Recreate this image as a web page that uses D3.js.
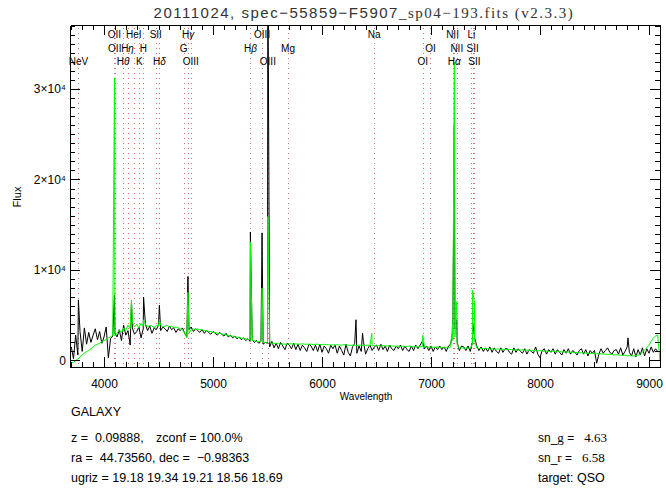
<!DOCTYPE html>
<html>
<head>
<meta charset="utf-8">
<script src="https://cdn.jsdelivr.net/npm/d3@7"></script>
<style>
body { margin: 0; background: #fff; }
svg text { font-family: "Liberation Sans", Arial, sans-serif; fill: #000; white-space: pre; }
.serif { font-family: "Liberation Serif", "Times New Roman", serif; }
.axis path, .axis line { stroke: #000; shape-rendering: crispEdges; }
</style>
</head>
<body>
<div id="chart"></div>
<script>
// spectrum sampled every 20 A starting at 3700 A
var waveStart = 3700, waveStep = 20;

// observed flux (black), rows of 200 A
var fluxData = [
  1500, 200, 2800, 600, 3200, 1000, 3600, 1800, 3100, 2000,
  2800, 3500, 2300, 3200, 1900, 2600, 3700, 300, 2400, 2700,
  3000, 2600, 3400, 2200, 3900, 2800, 3300, 1700, 3600, 2900,
  3200, 3700, 2500, 3500, 4000, 3300, 3800, 3000, 3600, 3400,
  3900, 3300, 3700, 3500, 3200, 3800, 3400, 3600, 3100, 3500,
  3300, 3600, 3000, 2600, 3400, 3700, 3200, 3500, 3300, 3100,
  3400, 3000, 3300, 3100, 2900, 3200, 3000, 2800, 3100, 2900,
  2700, 3000, 2600, 2800, 2500, 2700, 2400, 2600, 2300, 2500,
  2200, 2400, 2100, 2300, 2000, 2200, 1900, 2100, 1800, 2000,
  1900, 1500, 2100, 1400, 1900, 1300, 2000, 1600, 1200, 1900,
  1700, 1300, 1900, 1200, 1800, 1100, 1700, 1400, 1000, 1800,
  1600, 1100, 1700, 1000, 1800, 900, 1600, 1300, 800, 1700,
  1300, 1700, 800, 1600, 1100, 600, 1800, 900, 500, 1500,
  1900, 800, 1600, 1000, 2100, 700, 1300, 1700, 1100, 1500,
  1700, 1100, 1800, 1200, 1600, 1000, 1700, 1300, 1100, 1600,
  1300, 1700, 1100, 1600, 1200, 1000, 1600, 1100, 1700, 1300,
  1700, 2100, 1300, 1600, 1100, 1600, 1000, 1500, 1200, 1600,
  1200, 1500, 1000, 1600, 1800, 3200, 3500, 2000, 1100, 1600,
  1500, 1100, 1600, 1000, 2000, 2500, 1600, 1100, 1500, 1000,
  1400, 1000, 1500, 900, 1400, 1000, 800, 1400, 900, 1300,
  1300, 900, 700, 1400, 900, 1300, 1000, 800, 1300, 700,
  1200, 1000, 800, 1500, 700, 300, 1100, 1300, 700, 1200,
  900, 1300, 700, 1200, 900, 600, 1200, 800, 1300, 700,
  1100, 900, 600, 1100, 1300, 700, 1200, 500, 1100, 800,
  1100, -300, 700, 1300, 800, 1100, 1400, 900, 700, 1100,
  1200, 700, 1400, 600, 1000, 1500, 900, 500, 1300, 400,
  1200, 600, 1400, 500, 1300, 800, 1500, 900, 1300, 1000
];

// best-fit model (green), same grid
var fluxModel = [
  -300, -200, 0, 150, 400, 600, 800, 1000, 1100, 1300,
  1500, 1700, 1800, 1900, 2100, 2200, 2300, 2500, 2600, 2800,
  2700, 3000, 3400, 3100, 3600, 3300, 3900, 3500, 4200, 3700,
  4000, 3600, 4100, 3800, 4000, 3700, 3900, 3800, 3600, 3900,
  3800, 3900, 3700, 3800, 3900, 3700, 3800, 3600, 3700, 3600,
  3500, 3400, 3000, 2500, 3000, 3400, 3500, 3400, 3500, 3400,
  3400, 3300, 3300, 3200, 3200, 3100, 3100, 3000, 3000, 2900,
  2900, 2800, 2800, 2700, 2700, 2600, 2600, 2500, 2500, 2400,
  2400, 2300, 2300, 2200, 2200, 2100, 2100, 2100, 2000, 2000,
  2000, 2000, 1900, 1900, 1900, 1900, 1800, 1800, 1800, 1800,
  1850, 1850, 1800, 1850, 1800, 1800, 1850, 1800, 1800, 1800,
  1800, 1750, 1800, 1800, 1750, 1750, 1800, 1750, 1750, 1700,
  1750, 1700, 1750, 1700, 1700, 1750, 1700, 1700, 1650, 1700,
  1700, 1650, 1700, 1700, 1650, 1650, 1700, 1650, 1600, 1650,
  1650, 1650, 1600, 1650, 1600, 1600, 1650, 1600, 1600, 1550,
  1600, 1550, 1600, 1550, 1550, 1600, 1550, 1500, 1550, 1500,
  1500, 1550, 1500, 1500, 1450, 1500, 1450, 1450, 1500, 1450,
  1450, 1400, 1450, 1400, 1500, 2200, 2600, 1700, 1350, 1400,
  1350, 1400, 1350, 1350, 1800, 2200, 1400, 1300, 1350, 1300,
  1300, 1300, 1250, 1300, 1250, 1250, 1300, 1200, 1250, 1200,
  1200, 1250, 1200, 1150, 1200, 1150, 1150, 1200, 1100, 1150,
  1100, 1150, 1100, 1100, 1050, 1100, 1050, 1000, 1050, 1000,
  1000, 1050, 1000, 950, 1000, 950, 950, 900, 950, 900,
  900, 850, 900, 850, 850, 800, 850, 800, 750, 800,
  750, 800, 700, 750, 700, 700, 650, 700, 650, 600,
  650, 600, 600, 550, 600, 500, 550, 500, 500, 550,
  600, 700, 900, 1200, 1400, 1700, 2100, 2500, 2700, 2800,
  0
];

// narrow emission / sky spikes that fall between grid points
var peakWave  = [3765, 4096, 4252, 4363, 4508, 4770, 5343, 5450, 5503, 6312, 6372, 6457, 6925, 7198, 7214, 7236, 7382, 7399, 8807];
var peakData  = [6700, 7200, 6500, 7000, 6100, 9300, 14200, 14100, 45000, 4500, 3000, null, 2000, 3000, 26000, 4500, 4100, 2800, 2500];
var peakModel = [null, 31200, 6700, 4500, 4500, 7500, 13100, 8000, 15900, null, null, 3000, 2800, 4000, 33000, 6500, 7800, 6300, null];

// line markers: rest wavelength, label, label row
var redshift = 0.09888;
var lineRest = [3426.8, 3727.1, 3729.9, 3799.0, 3836.5, 3889.0, 3934.8, 3969.6, 4072.3, 4102.9,
                4305.6, 4341.7, 4364.4, 4862.7, 4960.3, 5008.2, 5176.7, 5895.6, 6302.0, 6365.5,
                6549.9, 6564.6, 6585.3, 6707.9, 6718.3, 6732.7];
var lineName = ["NeV", "OII", "OII", "H|θ", "H|η", "HeI", "K", "H", "SII", "H|δ",
                "G", "H|γ", "OIII", "H|β", "OIII", "OIII", "Mg", "Na", "OI", "OI",
                "NII", "H|α", "NII", "Li", "SII", "SII"];
var lineRow  = [2, 0, 1, 2, 1, 0, 2, 1, 0, 2,
                1, 0, 2, 1, 0, 2, 1, 0, 2, 1,
                0, 2, 1, 0, 1, 2];

var xTicks = [4000, 5000, 6000, 7000, 8000, 9000];
var yTicks = [0, 10000, 20000, 30000];
var yTickLabels = ["0", "1×10⁴", "2×10⁴", "3×10⁴"];

var title = "20111024, spec−55859−F5907";
var titleSerif = "_sp04−193.fits (v2.3.3)";

var W = 666, H = 494;
var mLeft = 70, mRight = 660, mTop = 25, mBottom = 367;

var svg = d3.select("#chart").append("svg")
    .attr("width", W).attr("height", H);
svg.append("rect").attr("width", W).attr("height", H).attr("fill", "#fff");

var x = d3.scaleLinear().domain([3688, 9101]).range([mLeft, mRight]);
var y = d3.scaleLinear().domain([-720, 37070]).range([mBottom, mTop]);

function buildSeries(vals, peaks) {
    var pts = vals.map(function(v, i) { return [waveStart + waveStep * i, v]; });
    peakWave.forEach(function(w, i) {
        if (peaks[i] != null) pts.push([w, peaks[i]]);
    });
    pts.sort(function(a, b) { return a[0] - b[0]; });
    return pts;
}

svg.append("clipPath").attr("id", "clip")
    .append("rect").attr("x", mLeft).attr("y", mTop)
    .attr("width", mRight - mLeft).attr("height", mBottom - mTop);

// dotted line markers
var obs = lineRest.map(function(r) { return r * (1 + redshift); });
svg.append("g").selectAll("line")
    .data(obs).enter().append("line")
    .attr("x1", function(d) { return Math.round(x(d)) + 0.5; })
    .attr("x2", function(d) { return Math.round(x(d)) + 0.5; })
    .attr("y1", mTop + 3).attr("y2", mBottom)
    .attr("stroke", "#d05050")
    .attr("stroke-opacity", 0.8)
    .attr("stroke-width", 1)
    .attr("stroke-dasharray", "1,4");

var line = d3.line()
    .x(function(d) { return x(d[0]); })
    .y(function(d) { return y(d[1]); });

var plot = svg.append("g").attr("clip-path", "url(#clip)");
plot.append("path")
    .datum(buildSeries(fluxData, peakData))
    .attr("d", line)
    .attr("fill", "none").attr("stroke", "#000").attr("stroke-width", 1);
plot.append("path")
    .datum(buildSeries(fluxModel, peakModel))
    .attr("d", line)
    .attr("fill", "none").attr("stroke", "#00ff00").attr("stroke-width", 1);

// line labels
var lab = svg.append("g").selectAll("text")
    .data(obs).enter().append("text")
    .attr("x", function(d) { return x(d); })
    .attr("y", function(d, i) { return 38 + lineRow[i] * 13.5; })
    .attr("text-anchor", "middle")
    .style("font-size", "10px");
lab.each(function(d, i) {
    var parts = lineName[i].split("|");
    var t = d3.select(this);
    t.append("tspan").text(parts[0]);
    if (parts[1]) t.append("tspan").style("font-style", "italic").text(parts[1]);
});

// axes (ticks point inward, like IDL)
var minorX = d3.range(3700, 9101, 100).filter(function(v) { return v % 1000 != 0; });
var minorY = d3.range(1000, 37001, 1000).filter(function(v) { return v % 10000 != 0; });

function addAxis(axis, tr) {
    var g = svg.append("g").attr("class", "axis")
        .attr("transform", tr).call(axis);
    g.selectAll("text").style("font-size", "12px");
    return g;
}

addAxis(d3.axisBottom(x).tickValues(xTicks).tickFormat(d3.format("d"))
    .tickSize(-10).tickSizeOuter(0).tickPadding(12), "translate(0," + mBottom + ")");
addAxis(d3.axisBottom(x).tickValues(minorX).tickFormat("")
    .tickSize(-5).tickSizeOuter(0), "translate(0," + mBottom + ")");
addAxis(d3.axisTop(x).tickValues(xTicks).tickFormat("")
    .tickSize(-10).tickSizeOuter(0), "translate(0," + mTop + ")");
addAxis(d3.axisTop(x).tickValues(minorX).tickFormat("")
    .tickSize(-5).tickSizeOuter(0), "translate(0," + mTop + ")");
addAxis(d3.axisLeft(y).tickValues(yTicks)
    .tickFormat(function(d, i) { return yTickLabels[i]; })
    .tickSize(-10).tickSizeOuter(0).tickPadding(4), "translate(" + mLeft + ",0)");
addAxis(d3.axisLeft(y).tickValues(minorY).tickFormat("")
    .tickSize(-5).tickSizeOuter(0), "translate(" + mLeft + ",0)");
addAxis(d3.axisRight(y).tickValues(yTicks).tickFormat("")
    .tickSize(-10).tickSizeOuter(0), "translate(" + mRight + ",0)");
addAxis(d3.axisRight(y).tickValues(minorY).tickFormat("")
    .tickSize(-5).tickSizeOuter(0), "translate(" + mRight + ",0)");

// titles
var tt = svg.append("text").attr("x", 364).attr("y", 18)
    .attr("text-anchor", "middle").style("font-size", "15px")
    .style("letter-spacing", "1.5px").style("fill", "#333");
tt.append("tspan").text(title);
tt.append("tspan").attr("class", "serif").text(titleSerif);

svg.append("text").attr("x", 366).attr("y", 400)
    .attr("text-anchor", "middle").style("font-size", "10px").text("Wavelength");

svg.append("text")
    .attr("transform", "translate(21,197) rotate(-90)")
    .attr("text-anchor", "middle").style("font-size", "11px").text("Flux");

// info block
svg.append("text").attr("x", 71).attr("y", 416).style("font-size", "12.5px").text("GALAXY");
var info = [
    [71, 442, "z =  0.09888,"],
    [156, 442, "zconf = 100.0%"],
    [71, 462, "ra =  44.73560, dec =  −0.98363"],
    [71, 482, "ugriz = 19.18 19.34 19.21 18.56 18.69"],
    [538, 482, "target: QSO"]
];
svg.append("g").selectAll("text").data(info).enter().append("text")
    .attr("x", function(d) { return d[0]; })
    .attr("y", function(d) { return d[1]; })
    .style("font-size", "12.5px")
    .text(function(d) { return d[2]; });

var sn = [["g", "4.63", 442], ["r", "6.58", 462]];
sn.forEach(function(s) {
    var t = svg.append("text").attr("x", 538).attr("y", s[2]).style("font-size", "12px");
    t.append("tspan").text("sn_");
    t.append("tspan").attr("class", "serif").style("font-size", "13px").text(s[0]);
    t.append("tspan").text(" =   ");
    t.append("tspan").attr("class", "serif").style("font-size", "13px").text(s[1]);
});
</script>
</body>
</html>
